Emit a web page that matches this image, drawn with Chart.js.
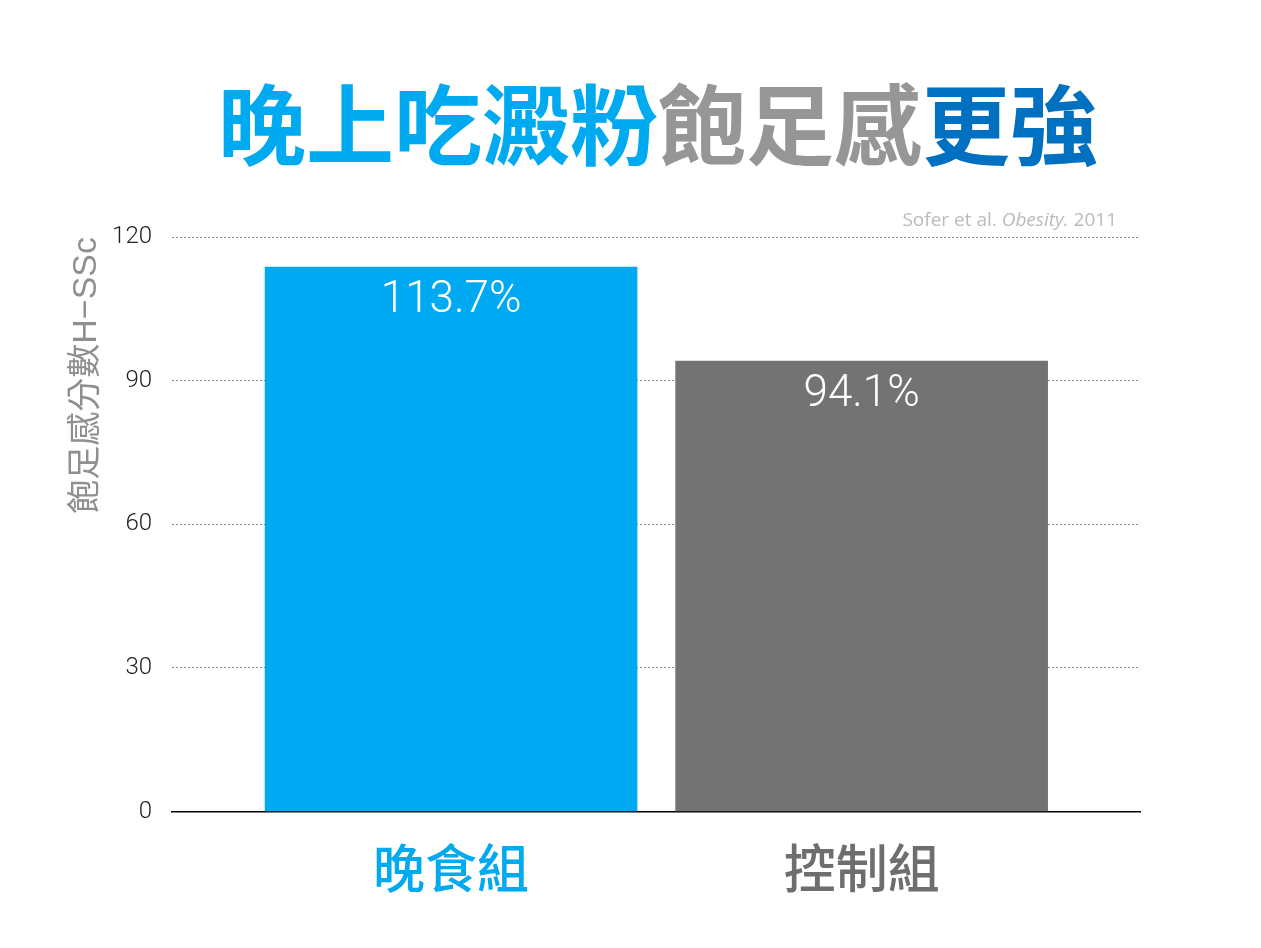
<!DOCTYPE html>
<html lang="zh-Hant">
<head>
<meta charset="utf-8">
<title>晚上吃澱粉飽足感更強</title>
<script src="https://cdn.jsdelivr.net/npm/chart.js@4"></script>
<style>
  body { margin: 0; background: #fff; }
  #wrap { position: relative; width: 1261px; height: 948px; }
  #title { position: absolute; left: 218px; top: 76px; margin: 0; font: 700 88px/1 "Noto Sans CJK TC"; white-space: nowrap; }
  #source { position: absolute; right: 144px; top: 206px; font: 19px "Open Sans"; color: #bbb; }
  canvas { position: absolute; left: 0; top: 0; }
</style>
</head>
<body>
<div id="wrap">
  <canvas id="grafiek" width="1261" height="948"></canvas>
  <h1 id="title"><span style="color:#00aaf0">晚上吃澱粉</span><span style="color:#969696">飽足感</span><span style="color:#0070c0">更強</span></h1>
  <div id="source">Sofer et al. <i>Obesity.</i> 2011</div>
</div>
<script>
// data
const groepen = ['晚食組', '控制組'];
const posities = [1, 2];
const waarden = [113.7, 94.1];
const yTicks = [0, 30, 60, 90, 120];

const kleuren = ['#00aaf2', '#737373'];
const labelKleuren = ['#00aaf0', '#6e6e6e'];

// witte percentages in de balken
const waardeLabels = {
  id: 'waardeLabels',
  afterDatasetsDraw(chart) {
    const ctx = chart.ctx;
    ctx.save();
    ctx.fillStyle = '#fff';
    ctx.font = '300 44px Roboto';
    ctx.textAlign = 'center';
    ctx.textBaseline = 'middle';
    chart.getDatasetMeta(0).data.forEach((bar, i) => {
      ctx.fillText(waarden[i].toFixed(1) + '%', bar.x, bar.y + 34);
    });
    ctx.restore();
  }
};

const ctx = document.getElementById('grafiek').getContext('2d');

new Chart(ctx, {
  type: 'bar',
  data: {
    datasets: [{
      data: posities.map((x, i) => ({ x: x, y: waarden[i] })),
      backgroundColor: kleuren,
      borderWidth: 0,
      barThickness: 372
    }]
  },
  options: {
    responsive: false,
    animation: false,
    layout: { padding: { left: 66, right: 121, top: 237, bottom: 24 } },
    plugins: {
      legend: { display: false },
      tooltip: { enabled: false }
    },
    scales: {
      x: {
        type: 'linear',
        offset: false,
        min: 0.3203,
        max: 2.678,
        afterBuildTicks: scale => {
          scale.ticks = posities.map(v => ({ value: v }));
        },
        grid: { drawOnChartArea: false, drawTicks: false },
        border: { display: true, color: '#000', width: 1.5 },
        ticks: {
          padding: 25,
          autoSkip: false,
          maxRotation: 0,
          callback: (value, index) => groepen[index],
          color: c => labelKleuren[c.index],
          font: { family: '"Noto Sans CJK TC"', size: 52, weight: 500 }
        }
      },
      y: {
        min: 0,
        max: 120,
        afterBuildTicks: scale => {
          scale.ticks = yTicks.map(v => ({ value: v }));
        },
        afterFit: scale => {
          scale.width = 106;
        },
        grid: {
          drawTicks: false,
          color: c => (c.tick && c.tick.value === 0) ? 'rgba(0,0,0,0)' : '#8a8a8a',
          lineWidth: 1
        },
        border: { display: false, dash: [2, 2] },
        ticks: {
          padding: 20,
          color: '#222',
          font: { family: 'Roboto', size: 24, weight: 300 }
        },
        title: {
          display: true,
          text: '飽足感分數H−SSc',
          align: 'end',
          color: '#8f8f8f',
          padding: { top: 0, bottom: 11 },
          font: { family: '"Liberation Sans", "Noto Sans CJK TC"', size: 34, weight: 400 }
        }
      }
    }
  },
  plugins: [waardeLabels]
});
</script>
</body>
</html>
